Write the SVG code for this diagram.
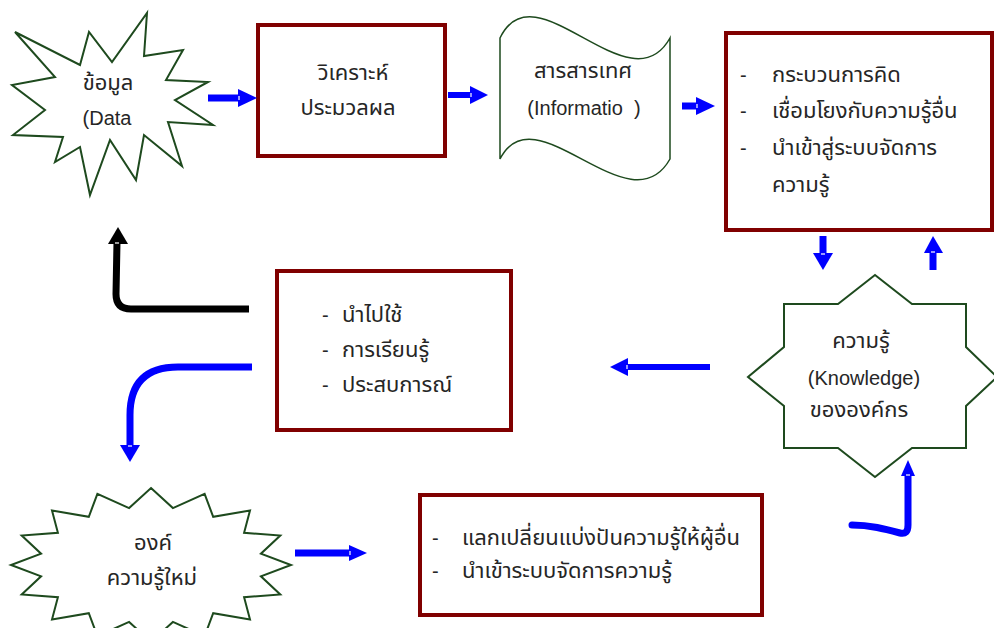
<svg xmlns="http://www.w3.org/2000/svg" width="994" height="628" viewBox="0 0 994 628">
<style>
.box{fill:#fff;stroke:#800000;stroke-width:4}
.star{fill:#fff;stroke:#1e4a1e;stroke-width:2;stroke-linejoin:miter}
.doc{fill:#fff;stroke:#1e4a1e;stroke-width:1.5}
.t{font-family:"Liberation Sans","Noto Sans Thai","Noto Sans Thai Looped",Loma,Garuda,sans-serif;font-size:22px;fill:#262626}
.l{font-size:20px}
.c{text-anchor:middle}
.head{fill:#0000ff}
.shaft{stroke:#0000ff;stroke-width:7;fill:none}
.curve{stroke:#0000ff;stroke-width:7;fill:none;stroke-linecap:round;stroke-linejoin:round}
.tick{stroke:#fff;stroke-width:1.2}
</style>
<rect width="994" height="628" fill="#fff"/>
<g id="data">
<polygon class="star" points="15,32 80,65 89,32 112,62 147,13 144,56 183,50 166,80 208,82 175,100 213,125 168,122 182,166 144,135 136,180 110,140 90,195 80,147 55,162 63,137 13,135 45,110 12,85 55,77"/>
<text class="t c" x="108" y="90">ข้อมูล</text>
<text class="t l c" x="107" y="125">(Data</text>
</g>
<g id="analyze">
<rect class="box" x="258" y="25" width="187" height="131"/>
<text class="t c" x="353" y="80">วิเคราะห์</text>
<text class="t c" x="348" y="115">ประมวลผล</text>
</g>
<g id="information">
<path class="doc" d="M500,38 C535,-35 630,110 670,38 L670,159 C630,230 535,90 500,159 Z"/>
<text class="t c" x="583" y="78">สารสารเทศ</text>
<text class="t l c" x="584" y="115" xml:space="preserve" style="white-space:pre">(Informatio  )</text>
</g>
<g id="thinking">
<rect class="box" x="726" y="33" width="266" height="197"/>
<text class="t l" x="740" y="82">-</text><text class="t" x="772" y="82">กระบวนการคิด</text>
<text class="t l" x="740" y="118">-</text><text class="t" x="772" y="118">เชื่อมโยงกับความรู้อื่น</text>
<text class="t l" x="740" y="155">-</text><text class="t" x="772" y="155">นำเข้าสู่ระบบจัดการ</text>
<text class="t" x="772" y="192">ความรู้</text>
</g>
<g id="knowledge">
<polygon class="star" points="875,275 838,304 784,304 784,347 748,377 784,406 784,448 838,448 875,477 912,448 966,448 966,406 997,377 966,347 966,304 912,304"/>
<text class="t c" x="861" y="348">ความรู้</text>
<text class="t l c" x="864" y="385">(Knowledge)</text>
<text class="t c" x="859" y="417">ขององค์กร</text>
</g>
<g id="use">
<rect class="box" x="277" y="271" width="234" height="159"/>
<text class="t l" x="322" y="322">-</text><text class="t" x="342" y="322">นำไปใช้</text>
<text class="t l" x="322" y="357">-</text><text class="t" x="342" y="357">การเรียนรู้</text>
<text class="t l" x="322" y="392">-</text><text class="t" x="342" y="392">ประสบการณ์</text>
</g>
<g id="newknowledge">
<polygon class="star" points="151,488 172.9,508.1 204.6,493.9 213.2,516.8 250,510.6 244.1,532.8 280.3,535.5 260.9,553.7 291,565 260.9,576.3 280.3,594.5 244.1,597.2 250,619.4 213.2,613.2 204.6,636.1 172.9,621.9 151,642 129.1,621.9 97.4,636.1 88.8,613.2 52,619.4 57.9,597.2 21.7,594.5 41.1,576.3 11,565 41.1,553.7 21.7,535.5 57.9,532.8 52,510.6 88.8,516.8 97.4,493.9 129.1,508.1"/>
<text class="t c" x="153" y="550">องค์</text>
<text class="t c" x="152" y="585">ความรู้ใหม่</text>
</g>
<g id="share">
<rect class="box" x="420" y="495" width="342" height="120"/>
<text class="t l" x="432" y="545">-</text><text class="t" x="462" y="545">แลกเปลี่ยนแบ่งปันความรู้ให้ผู้อื่น</text>
<text class="t l" x="432" y="578">-</text><text class="t" x="462" y="578">นำเข้าระบบจัดการความรู้</text>
</g>
<g id="connectors">
<line class="shaft" x1="208" y1="98" x2="240" y2="98"/>
<polygon class="head" points="238,89 257,98 238,107"/>
<line class="tick" x1="239" y1="96" x2="239" y2="100"/>
<line class="shaft" x1="448" y1="95" x2="472" y2="95" style="stroke-width:6"/>
<polygon class="head" points="470,86 488,95 470,104"/>
<line class="tick" x1="471" y1="93" x2="471" y2="97"/>
<line class="shaft" x1="682" y1="106" x2="698" y2="106"/>
<polygon class="head" points="696,97 715,106 696,115"/>
<line class="tick" x1="697" y1="104" x2="697" y2="108"/>
<line class="shaft" x1="823" y1="236" x2="823" y2="255"/>
<polygon class="head" points="813,253 833,253 823,270"/>
<line class="tick" x1="821" y1="254" x2="825" y2="254"/>
<line class="shaft" x1="933" y1="270" x2="933" y2="251"/>
<polygon class="head" points="924,253 943,253 933,236"/>
<line class="tick" x1="931" y1="252" x2="935" y2="252"/>
<line class="shaft" x1="710" y1="367" x2="626" y2="367" style="stroke-width:6"/>
<polygon class="head" points="628,358 628,376 610,367"/>
<line class="tick" x1="627" y1="365" x2="627" y2="369"/>
<path class="curve" d="M852,525 C870,525 885,529 900,533 Q908,535 908,525 L908,474"/>
<polygon class="head" points="908,460 901,476 915,476"/>
<line class="tick" x1="906" y1="475" x2="910" y2="475"/>
<path class="curve" d="M249,309 L131,309 Q116,309 116,294 L117,242" style="stroke:#000;stroke-linecap:butt"/>
<polygon points="118,227 108,244 128,244" fill="#000"/>
<line class="tick" x1="115" y1="243" x2="119" y2="243"/>
<path class="curve" d="M252,367 L178,367 Q130,367 130,415 L130,447" style="stroke-linecap:butt"/>
<polygon class="head" points="130,462 120,445 140,445"/>
<line class="tick" x1="128" y1="446" x2="132" y2="446"/>
<line class="shaft" x1="295" y1="553" x2="351" y2="553"/>
<polygon class="head" points="349,545 367,553 349,561"/>
<line class="tick" x1="350" y1="551" x2="350" y2="555"/>
</g>
</svg>
